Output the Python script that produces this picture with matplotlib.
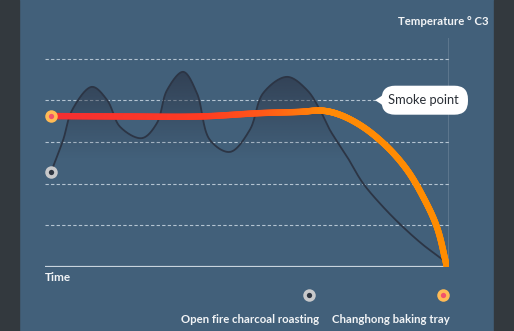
import numpy as np
import matplotlib
matplotlib.use("Agg")
import matplotlib.pyplot as plt
from matplotlib.collections import LineCollection
from matplotlib.colors import LinearSegmentedColormap
from matplotlib.patches import Polygon, Rectangle, FancyBboxPatch

# Temperature over time for the two cooking methods
charcoal_t = [1.5, 4.5, 6.7, 11.6, 15.4, 18.6, 24.0, 27.7, 30.2, 34.2, 37.6, 40.8,
              45.8, 50.7, 54.0, 59.9, 64.9, 68.1, 70.5, 74.8, 78.7, 83.7, 88.6, 93.6,
              98.5, 99.5]
charcoal_temp = [2.28, 3.05, 3.76, 4.32, 4.00, 3.36, 3.09, 3.45, 4.24, 4.68, 4.17, 3.05,
                 2.76, 3.29, 4.17, 4.56, 4.24, 3.76, 3.29, 2.64, 2.01, 1.44, 0.96, 0.53,
                 0.17, 0.07]

tray_t = [1.5, 20.0, 38.4, 53.2, 63.1, 68.6, 73.0, 78.7, 84.7, 89.6, 93.6, 97.0, 99.5]
tray_temp = [3.62, 3.61, 3.61, 3.69, 3.72, 3.75, 3.65, 3.36, 2.88, 2.33, 1.68, 0.96, 0.0]

grid_levels = [1, 2, 3, 4, 5]
smoke_point = 4.0
series_names = ["Open fire charcoal roasting", "Changhong baking tray"]

BG = "#42607a"
OUTER = "#33393e"
LIGHT = "#b4c4d2"
FONT = ["Lato", "DejaVu Sans"]
PX_X = 404 / 100      # pixels per time unit
PX_Y = 41.7           # pixels per temperature unit


def smooth(xs, ys, n=40):
    """Centripetal Catmull-Rom curve through the points, built in screen proportions."""
    P = np.column_stack([np.asarray(xs, float) * PX_X, np.asarray(ys, float) * PX_Y])
    P = np.vstack([2 * P[0] - P[1], P, 2 * P[-1] - P[-2]])
    out = []
    for i in range(len(P) - 3):
        p0, p1, p2, p3 = P[i:i + 4]
        t0 = 0.0
        t1 = t0 + np.linalg.norm(p1 - p0) ** 0.5
        t2 = t1 + np.linalg.norm(p2 - p1) ** 0.5
        t3 = t2 + np.linalg.norm(p3 - p2) ** 0.5
        t = np.linspace(t1, t2, n, endpoint=False)[:, None]
        a1 = (t1 - t) / (t1 - t0) * p0 + (t - t0) / (t1 - t0) * p1
        a2 = (t2 - t) / (t2 - t1) * p1 + (t - t1) / (t2 - t1) * p2
        a3 = (t3 - t) / (t3 - t2) * p2 + (t - t2) / (t3 - t2) * p3
        b1 = (t2 - t) / (t2 - t0) * a1 + (t - t0) / (t2 - t0) * a2
        b2 = (t3 - t) / (t3 - t1) * a2 + (t - t1) / (t3 - t1) * a3
        out.append((t2 - t) / (t2 - t1) * b1 + (t - t1) / (t2 - t1) * b2)
    out.append(P[-2][None])
    res = np.vstack(out)
    return np.column_stack([res[:, 0] / PX_X, res[:, 1] / PX_Y])


fig = plt.figure(figsize=(5.14, 3.31), dpi=100)
fig.patch.set_facecolor(BG)
fig.patches.append(Rectangle((0, 0), 19 / 514, 1, transform=fig.transFigure, color=OUTER, zorder=0))
fig.patches.append(Rectangle((494 / 514, 0), 20 / 514, 1, transform=fig.transFigure, color=OUTER, zorder=0))

ax = fig.add_axes([45 / 514, 64 / 331, 404 / 514, 5.5 * PX_Y / 331])
ax.patch.set_alpha(0)
ax.set_xlim(0, 100)
ax.set_ylim(0, 5.5)
for s in ax.spines.values():
    s.set_visible(False)
ax.set_xticks([])
ax.set_yticks([])

# dashed guide lines and axes
for lv in grid_levels:
    ax.plot([0, 100], [lv, lv], color=LIGHT, lw=0.8, ls=(0, (3, 2)), zorder=1)
ax.plot([0, 100], [0, 0], color="#c9d4de", lw=1.6, zorder=2, solid_capstyle="butt")
ax.plot([100, 100], [0, 5.5], color="#c9d4de", lw=1.0, zorder=2)

# charcoal curve with shaded area under the peaks
c = smooth(charcoal_t, charcoal_temp)
ax.plot(c[:, 0], c[:, 1], color="#2c3545", lw=1.3, zorder=3, solid_capstyle="round")
yy = np.linspace(5.5, 0, 300)
alpha = np.clip((yy - 2.6) / (4.7 - 2.6), 0, 1) * 0.7
grad = np.zeros((300, 2, 4))
grad[..., 0] = 0.17
grad[..., 1] = 0.20
grad[..., 2] = 0.27
grad[..., 3] = alpha[:, None]
im = ax.imshow(grad, extent=[0, 100, 0, 5.5], aspect="auto", zorder=2.5, interpolation="bilinear")
poly = Polygon(np.vstack([c, [[c[-1, 0], 0], [c[0, 0], 0]]]), closed=True, transform=ax.transData)
im.set_clip_path(poly)

# baking tray curve with red-to-orange gradient
o = smooth(tray_t, tray_temp)
segs = np.stack([o[:-1], o[1:]], axis=1)
cmap = LinearSegmentedColormap.from_list("heat", [(0, "#f42d33"), (0.4, "#ff3c22"),
                                                  (0.55, "#ff5a18"), (0.7, "#ff8a06"),
                                                  (1, "#ff8c00")])
lc = LineCollection(segs, cmap=cmap, linewidths=4.6, capstyle="round", zorder=4)
lc.set_array(0.5 * (segs[:, 0, 0] + segs[:, 1, 0]) / 100)
lc.set_clim(0, 1)
ax.add_collection(lc)


def dot(x, y, outer, inner, clip=True):
    ax.plot([x], [y], marker="o", ms=9, color=outer, mec="none", zorder=6, clip_on=clip)
    ax.plot([x], [y], marker="o", ms=3.8, color=inner, mec="none", zorder=7, clip_on=clip)


dot(charcoal_t[0], charcoal_temp[0], "#c8c9cb", "#2e3540")
dot(tray_t[0], tray_temp[0], "#ffbb55", "#f2536b")

# smoke point callout: pill-shaped box with a pointer
box_x0, box_x1 = 83.3, 104.7
box_h = 29 / PX_Y
radius_px = 13.5
ax.add_patch(FancyBboxPatch((box_x0, smoke_point - box_h / 2), box_x1 - box_x0, box_h,
                            boxstyle=f"round,pad=0,rounding_size={radius_px / PX_X}",
                            mutation_aspect=PX_X / PX_Y, fc="white", ec="none",
                            zorder=8, clip_on=False))
ax.add_patch(Polygon([[81.7, smoke_point], [84.2, smoke_point + 6.5 / PX_Y],
                      [84.2, smoke_point - 6.5 / PX_Y]],
                     closed=True, fc="white", ec="none", zorder=8, clip_on=False))
ax.text(93.7, smoke_point, "Smoke point", ha="center", va="center", fontsize=9.3,
        color="#2a2f36", family=FONT, zorder=9, clip_on=False)

# axis titles
ax.text(0, -0.26, "Time", ha="left", va="center", fontsize=8.5, color="#f2f4f6",
        fontweight="bold", family=FONT, clip_on=False)
ax.text(109.7, 5.88, "Temperature ° C3", ha="right", va="center", fontsize=8.2,
        color="#f2f4f6", fontweight="bold", family=FONT, clip_on=False)

# legend
dot(65.3, -0.67, "#c8c9cb", "#2e3540", clip=False)
dot(98.5, -0.67, "#ffbb55", "#f2536b", clip=False)
ax.text(67.8, -1.25, series_names[0], ha="right", va="center", fontsize=8.2, color="#f2f4f6",
        fontweight="bold", family=FONT, clip_on=False)
ax.text(100.2, -1.25, series_names[1], ha="right", va="center", fontsize=8.2, color="#f2f4f6",
        fontweight="bold", family=FONT, clip_on=False)

fig.savefig("out.png", dpi=100, facecolor=fig.get_facecolor())
